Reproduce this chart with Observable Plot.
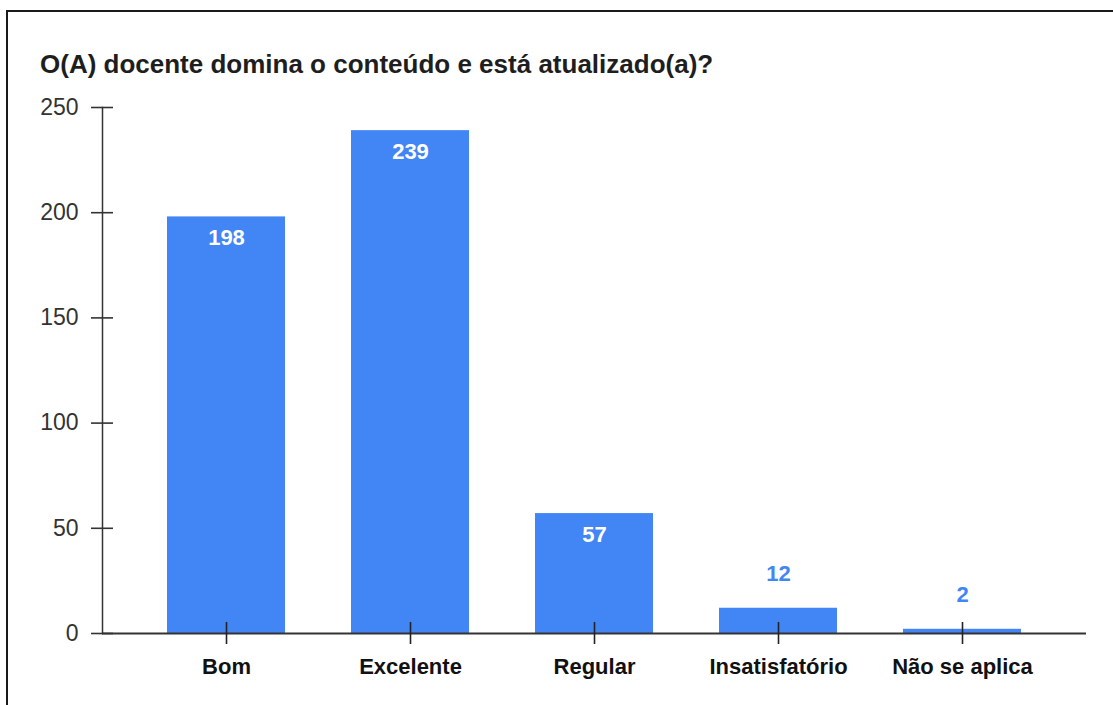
<!DOCTYPE html>
<html>
<head>
<meta charset="utf-8">
<script src="https://cdn.jsdelivr.net/npm/d3@7"></script>
<script src="https://cdn.jsdelivr.net/npm/@observablehq/plot@0.6"></script>
<style>
  html, body { margin: 0; padding: 0; background: #fff; overflow: hidden; }
  body { width: 1113px; height: 705px; position: relative; font-family: "Liberation Sans", Arial, sans-serif; }
  #border { position: absolute; left: 6px; top: 10px; width: 3000px; height: 3000px; border-left: 2px solid #1a1a1a; border-top: 2px solid #1a1a1a; box-sizing: border-box; }
  #wrap { position: absolute; left: 0; top: 0; width: 1113px; }
  #title { height: 90px; position: relative; }
  #title span { position: absolute; left: 40px; top: 51px; font-size: 26px; line-height: 26px; font-weight: bold; color: #1e1e1e; white-space: nowrap; }
  svg { display: block; }
</style>
</head>
<body>
<div id="border"></div>
<div id="wrap">
  <div id="title"><span>O(A) docente domina o conteúdo e está atualizado(a)?</span></div>
  <div id="chart"></div>
</div>
<script>
const categories = ["Bom", "Excelente", "Regular", "Insatisfatório", "Não se aplica"];
const values = [198, 239, 57, 12, 2];
const yTicks = [0, 50, 100, 150, 200, 250];

const data = categories.map((c, i) => ({category: c, value: values[i]}));
const insideThreshold = 30;
const blue = "#4285F4";

const chart = Plot.plot({
  width: 1113,
  height: 615,
  marginLeft: 102,
  marginRight: 27,
  marginTop: 17,
  marginBottom: 72,
  style: {fontFamily: "'Liberation Sans', Arial, sans-serif", background: "transparent", color: "#222"},
  x: {type: "band", domain: categories, range: [108, 1080], paddingInner: 0.36, paddingOuter: 0.32, label: null},
  y: {domain: [0, 250], label: null},
  marks: [
    Plot.barY(data, {x: "category", y: "value", fill: blue}),
    Plot.frame({anchor: "left", stroke: "#333", strokeWidth: 1.5}),
    Plot.ruleY([0], {stroke: "#333", strokeWidth: 2}),
    Plot.axisY(yTicks, {tickSize: 22, dx: 11, tickPadding: 13, fontSize: 23, stroke: "#333", strokeWidth: 1.6, fill: "#333", tickFormat: d => String(d), label: null}),
    Plot.axisX({tickSize: 22, dy: -11, tickPadding: 14, fontSize: 22, fontWeight: "bold", stroke: "#222", strokeWidth: 1.6, fill: "#111", label: null}),
    Plot.text(data.filter(d => d.value >= insideThreshold), {x: "category", y: "value", text: d => String(d.value), dy: 21, fill: "white", fontSize: 22, fontWeight: "bold"}),
    Plot.text(data.filter(d => d.value < insideThreshold), {x: "category", y: "value", text: d => String(d.value), dy: -34, fill: blue, fontSize: 22, fontWeight: "bold"})
  ]
});
document.getElementById("chart").appendChild(chart);
</script>
</body>
</html>
